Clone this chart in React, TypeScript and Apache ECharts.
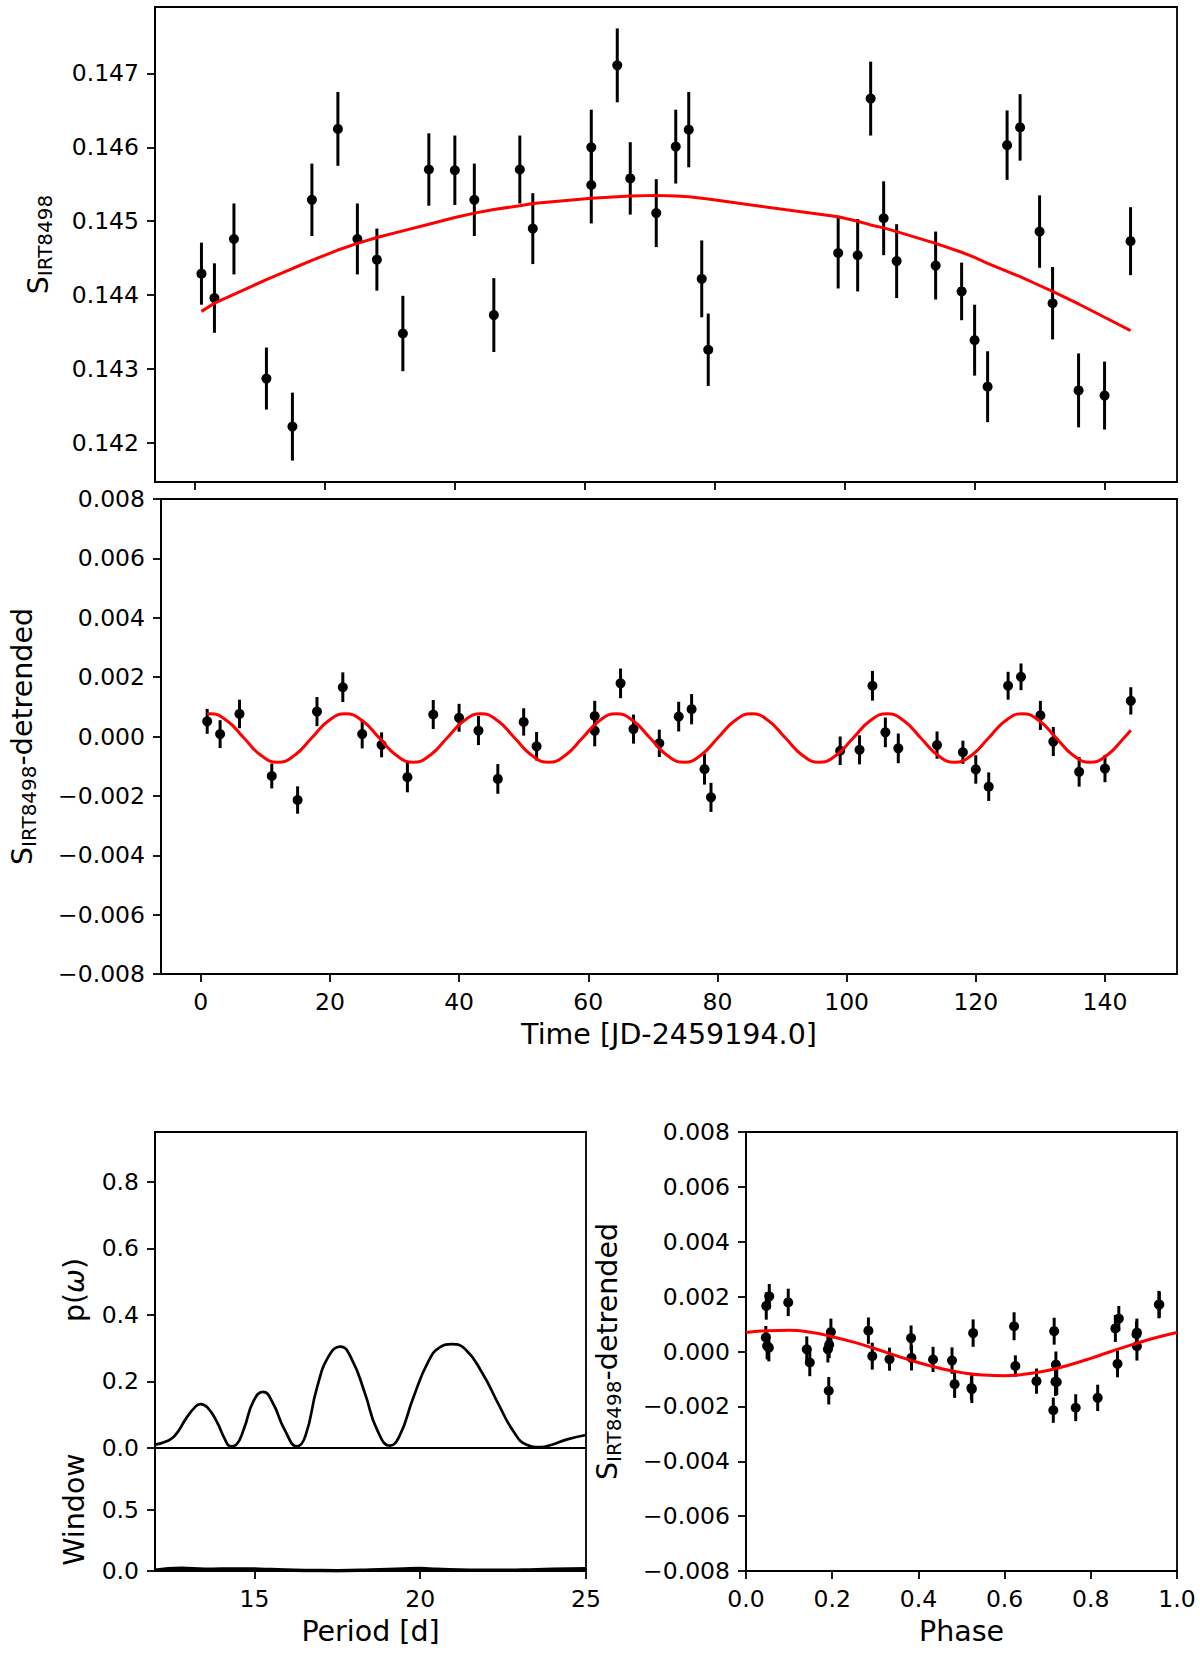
import React, { useEffect, useRef } from 'react';
import * as echarts from 'echarts';

// observation times [JD-2459194.0]
const times = [1, 3, 6, 11, 15, 18, 22, 25, 28, 32, 36, 40, 43, 46, 50, 52, 61, 61, 65, 67, 71, 74, 76, 78, 79, 99, 102, 104, 106, 108, 114, 118, 120, 122, 125, 127, 130, 132, 136, 140, 144];

// S_IRT8498 index and its error
const sIrt = [0.14429, 0.14396, 0.14476, 0.14287, 0.14222, 0.14529, 0.14625, 0.14476, 0.14448, 0.14348, 0.1457, 0.14569, 0.14529, 0.14373, 0.1457, 0.1449, 0.146, 0.14549, 0.14711, 0.14558, 0.14511, 0.14601, 0.14624, 0.14422, 0.14326, 0.14457, 0.14454, 0.14666, 0.14504, 0.14446, 0.1444, 0.14405, 0.14339, 0.14276, 0.14603, 0.14627, 0.14486, 0.14389, 0.14271, 0.14264, 0.14473];
const sErr = [0.00042, 0.00047, 0.00048, 0.00042, 0.00046, 0.00049, 0.0005, 0.00048, 0.00042, 0.00051, 0.00049, 0.00047, 0.00049, 0.0005, 0.00046, 0.00048, 0.00051, 0.00052, 0.0005, 0.00049, 0.00046, 0.0005, 0.00051, 0.00052, 0.00049, 0.00048, 0.00049, 0.0005, 0.0005, 0.0005, 0.00046, 0.00039, 0.00048, 0.00048, 0.00047, 0.00045, 0.00049, 0.00049, 0.0005, 0.00046, 0.00046];

// long-term trend evaluated at the observation times
const trend = [0.14378, 0.14389, 0.14401, 0.14421, 0.14436, 0.14447, 0.14461, 0.1447, 0.14478, 0.14487, 0.14496, 0.14505, 0.14511, 0.14516, 0.14521, 0.14524, 0.14531, 0.14531, 0.14533, 0.14534, 0.14535, 0.14534, 0.14533, 0.14531, 0.1453, 0.14506, 0.145, 0.14495, 0.14491, 0.14486, 0.1447, 0.14458, 0.14451, 0.14443, 0.14432, 0.14425, 0.14413, 0.14405, 0.14388, 0.1437, 0.14352];

// detrended index and rotational phase of each observation
const detrended = [0.00051, 0.00008, 0.00076, -0.00133, -0.00214, 0.00084, 0.00166, 0.00008, -0.00028, -0.00137, 0.00074, 0.00063, 0.0002, -0.00143, 0.00049, -0.00033, 0.00069, 0.00019, 0.00179, 0.00025, -0.00023, 0.00067, 0.00092, -0.0011, -0.00205, -0.00048, -0.00045, 0.00171, 0.00014, -0.0004, -0.00029, -0.00053, -0.00111, -0.00169, 0.00171, 0.00201, 0.00071, -0.00017, -0.00119, -0.00108, 0.0012];
const phases = [0.046, 0.141, 0.284, 0.523, 0.713, 0.857, 0.047, 0.19, 0.333, 0.524, 0.715, 0.906, 0.049, 0.192, 0.383, 0.478, 0.907, 0.907, 0.098, 0.193, 0.384, 0.527, 0.622, 0.718, 0.765, 0.719, 0.862, 0.958, 0.053, 0.148, 0.434, 0.625, 0.721, 0.816, 0.959, 0.054, 0.197, 0.293, 0.484, 0.674, 0.865];

// fitted sinusoid
const sineTime: [number, number][] = [
  [1.0, 0.00076], [1.45, 0.00077], [4.07, 0.00053], [6.69, -0.00005], [9.31, -0.00063], [11.93, -0.00087], [14.55, -0.00063], [17.17, -0.00005], [19.79, 0.00053],
  [22.41, 0.00077], [25.03, 0.00053], [27.65, -0.00005], [30.27, -0.00063], [32.89, -0.00087], [35.51, -0.00063], [38.13, -0.00005], [40.75, 0.00053],
  [43.37, 0.00077], [45.99, 0.00053], [48.61, -0.00005], [51.23, -0.00063], [53.85, -0.00087], [56.47, -0.00063], [59.09, -0.00005], [61.71, 0.00053],
  [64.33, 0.00077], [66.95, 0.00053], [69.57, -0.00005], [72.19, -0.00063], [74.81, -0.00087], [77.43, -0.00063], [80.05, -0.00005], [82.67, 0.00053],
  [85.29, 0.00077], [87.91, 0.00053], [90.53, -0.00005], [93.15, -0.00063], [95.77, -0.00087], [98.39, -0.00063], [101.01, -0.00005], [103.63, 0.00053],
  [106.25, 0.00077], [108.87, 0.00053], [111.49, -0.00005], [114.11, -0.00063], [116.73, -0.00087], [119.35, -0.00063], [121.97, -0.00005], [124.59, 0.00053],
  [127.21, 0.00077], [129.83, 0.00053], [132.45, -0.00005], [135.07, -0.00063], [137.69, -0.00087], [140.31, -0.00063], [142.93, -0.00005], [144.0, 0.00021],
];

// same sinusoid against phase
const sinePhase: [number, number][] = [
  [0, 0.00069], [0.05, 0.00076], [0.1, 0.00077], [0.15, 0.0007], [0.2, 0.00054], [0.25, 0.00034], [0.3, 0.0001], [0.35, -0.00016], [0.4, -0.0004], [0.45, -0.00061],
  [0.5, -0.00077], [0.55, -0.00086], [0.6, -0.00088], [0.65, -0.00082], [0.7, -0.00069], [0.75, -0.00049], [0.8, -0.00025], [0.85, 0.00002], [0.9, 0.00027], [0.95, 0.0005], [1.0, 0.00069],
];

// periodogram p(omega) and window function against period [d]
const periodogram: [number, number][] = [
  [12.0, 0.01], [12.37, 0.021], [12.6, 0.037], [12.94, 0.089], [13.18, 0.12], [13.37, 0.132], [13.58, 0.122], [13.87, 0.078], [14.1, 0.028], [14.28, 0.005],
  [14.45, 0.01], [14.68, 0.057], [14.97, 0.141], [15.26, 0.169], [15.55, 0.136], [15.9, 0.057], [16.29, 0.005], [16.54, 0.037], [16.89, 0.183], [17.24, 0.276],
  [17.59, 0.305], [17.94, 0.266], [18.34, 0.162], [18.69, 0.057], [19.09, 0.007], [19.38, 0.037], [19.79, 0.151], [20.25, 0.261], [20.6, 0.303], [20.95, 0.312],
  [21.36, 0.297], [21.88, 0.224], [22.34, 0.136], [22.8, 0.052], [23.21, 0.01], [23.62, 0.003], [23.97, 0.01], [24.43, 0.026], [25.0, 0.039],
];
const windowFn: [number, number][] = [
  [12.0, 0.006], [12.8, 0.022], [13.5, 0.014], [14.5, 0.017], [15.5, 0.012], [16.5, 0.004], [17.5, 0.003], [18.5, 0.008], [19.5, 0.017], [20.0, 0.02],
  [20.5, 0.014], [21.5, 0.006], [22.5, 0.006], [23.5, 0.011], [24.5, 0.016], [25.0, 0.018],
];

const timeTicks = [0, 20, 40, 60, 80, 100, 120, 140];
const sTicks = [0.142, 0.143, 0.144, 0.145, 0.146, 0.147];
const powerTicks = [0, 0.2, 0.4, 0.6, 0.8];
const windowTicks = [0, 0.5];
const periodTicks = [15, 20, 25];

const FONT = 'DejaVu Sans';
const TICK = 23.5;
const LABEL = 28.5;
const lineStyle = { color: '#000', width: 1.8 };

const minus = (v: number, d: number) => (v < -1e-12 ? '\u2212' : '') + Math.abs(v).toFixed(d);

const axis = (gridIndex: number, min: number, max: number, extra: any = {}) => ({
  type: 'value',
  gridIndex,
  min,
  max,
  splitLine: { show: false },
  axisLine: { show: true, onZero: false, lineStyle },
  axisTick: { show: true, length: 8, lineStyle, ...(extra.axisTick || {}) },
  axisLabel: { color: '#000', fontSize: TICK, fontFamily: FONT, margin: 16, ...(extra.axisLabel || {}) },
  nameLocation: 'middle',
  nameTextStyle: { color: '#000', fontSize: LABEL, fontFamily: FONT, ...(extra.nameTextStyle || {}) },
  ...Object.fromEntries(Object.entries(extra).filter(([k]) => !['axisTick', 'axisLabel', 'nameTextStyle'].includes(k))),
});

const subRich = {
  s: { fontSize: LABEL, fontFamily: FONT, color: '#000' },
  b: { fontSize: 20, fontFamily: FONT, color: '#000', padding: [13, 0, 0, 0] },
};

const errRender = (params: any, api: any) => {
  const x = api.value(0);
  const y = api.value(1);
  const e = api.value(2);
  const lo = api.coord([x, y - e]);
  const hi = api.coord([x, y + e]);
  return {
    type: 'line',
    shape: { x1: lo[0], y1: lo[1], x2: hi[0], y2: hi[1] },
    style: { stroke: '#000', lineWidth: 3 },
  };
};

const pointsWithErrors = (xs: number[], ys: number[], xi: number) => [
  {
    type: 'custom',
    xAxisIndex: xi,
    yAxisIndex: xi,
    data: xs.map((x, i) => [x, ys[i], sErr[i]]),
    renderItem: errRender,
    silent: true,
    z: 2,
  },
  {
    type: 'scatter',
    xAxisIndex: xi,
    yAxisIndex: xi,
    data: xs.map((x, i) => [x, ys[i]]),
    symbolSize: 10,
    itemStyle: { color: '#000', opacity: 1 },
    silent: true,
    z: 3,
  },
];

const curve = (data: [number, number][], xi: number, color: string, width: number, smooth: boolean) => ({
  type: 'line',
  xAxisIndex: xi,
  yAxisIndex: xi,
  data,
  smooth,
  showSymbol: false,
  symbol: 'none',
  silent: true,
  lineStyle: { color, width },
  itemStyle: { color },
  z: 4,
});

const App: React.FC = () => {
  const chartRef = useRef<HTMLDivElement>(null);

  useEffect(() => {
    if (!chartRef.current) return;
    document.body.style.margin = '0';
    const chart = echarts.init(chartRef.current, undefined, { renderer: 'svg' });

    const border = { show: true, borderColor: '#000', borderWidth: 1.8, backgroundColor: 'transparent' };

    chart.setOption({
      animation: false,
      textStyle: { fontFamily: FONT },
      grid: [
        { left: 155, top: 7, width: 1022, height: 475, ...border },
        { left: 155, top: 499, width: 1022, height: 475, ...border },
        { left: 155, top: 1132, width: 431, height: 316, ...border },
        { left: 155, top: 1448, width: 431, height: 123, ...border },
        { left: 746, top: 1132, width: 431, height: 439, ...border },
      ],
      xAxis: [
        axis(0, -6.15, 151.15, { axisTick: { customValues: timeTicks }, axisLabel: { show: false } }),
        axis(1, -6.15, 151.15, {
          axisTick: { customValues: timeTicks },
          axisLabel: { customValues: timeTicks, formatter: (v: number) => String(Math.round(v)) },
          name: 'Time [JD-2459194.0]',
          nameGap: 46,
        }),
        axis(2, 12, 25, { axisTick: { show: false }, axisLabel: { show: false } }),
        axis(3, 12, 25, {
          axisTick: { customValues: periodTicks },
          axisLabel: { customValues: periodTicks, formatter: (v: number) => String(Math.round(v)) },
          name: 'Period [d]',
          nameGap: 46,
        }),
        axis(4, 0, 1, {
          interval: 0.2,
          axisLabel: { formatter: (v: number) => v.toFixed(1) },
          name: 'Phase',
          nameGap: 46,
        }),
      ],
      yAxis: [
        axis(0, 0.14147, 0.1479, {
          axisTick: { customValues: sTicks },
          axisLabel: { customValues: sTicks, formatter: (v: number) => v.toFixed(3) },
          name: '{s|S}{b|IRT8498}',
          nameRotate: 90,
          nameGap: 100,
          nameTextStyle: { rich: subRich },
        }),
        axis(1, -0.008, 0.008, {
          interval: 0.002,
          axisLabel: { formatter: (v: number) => minus(v, 3) },
          name: '{s|S}{b|IRT8498}{s|-detrended}',
          nameRotate: 90,
          nameGap: 122,
          nameTextStyle: { rich: subRich },
        }),
        axis(2, 0, 0.95, {
          axisTick: { customValues: powerTicks },
          axisLabel: { customValues: powerTicks, formatter: (v: number) => v.toFixed(1) },
          name: '{s|p(}{i|\u03c9}{s|)}',
          nameRotate: 90,
          nameGap: 66,
          nameTextStyle: { rich: { s: subRich.s, i: { ...subRich.s, fontStyle: 'italic' } } },
        }),
        axis(3, 0, 1, {
          axisTick: { customValues: windowTicks },
          axisLabel: { customValues: windowTicks, formatter: (v: number) => v.toFixed(1) },
          name: 'Window',
          nameRotate: 90,
          nameGap: 66,
        }),
        axis(4, -0.008, 0.008, {
          interval: 0.002,
          axisLabel: { formatter: (v: number) => minus(v, 3) },
          name: '{s|S}{b|IRT8498}{s|-detrended}',
          nameRotate: 90,
          nameGap: 122,
          nameTextStyle: { rich: subRich },
        }),
      ],
      series: [
        ...pointsWithErrors(times, sIrt, 0),
        curve(times.map((t, i) => [t, trend[i]] as [number, number]), 0, '#ff0000', 3, false),
        ...pointsWithErrors(times, detrended, 1),
        curve(sineTime, 1, '#ff0000', 3, true),
        curve(periodogram, 2, '#000', 2.7, true),
        curve(windowFn, 3, '#000', 3.5, true),
        ...pointsWithErrors(phases, detrended, 4),
        curve(sinePhase, 4, '#ff0000', 3, true),
      ],
    });

    return () => {
      chart.dispose();
    };
  }, []);

  return <div ref={chartRef} style={{ width: '1200px', height: '1654px' }} />;
};

export default App;
